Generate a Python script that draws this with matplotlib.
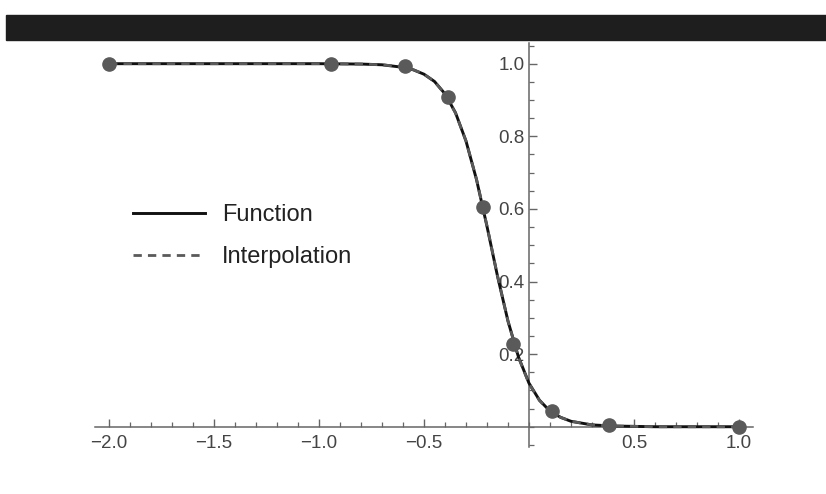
import matplotlib
matplotlib.use("Agg")
import matplotlib.pyplot as plt
from matplotlib.patches import Rectangle
from matplotlib.ticker import MultipleLocator, FixedLocator

plt.rcParams['font.family'] = ['Liberation Sans', 'DejaVu Sans']

# sample points
pts_x = [-2.0, -0.943, -0.59, -0.386, -0.22, -0.075, 0.111, 0.383, 1.0]
pts_y = [1.0, 1.0, 0.994, 0.907, 0.606, 0.228, 0.044, 0.004, 0.0]

# curve readings
curve_x = [-2.0, -1.5, -1.0, -0.8, -0.7, -0.6, -0.55, -0.5, -0.45, -0.4,
           -0.35, -0.3, -0.25, -0.2, -0.15, -0.1, -0.05, 0.0, 0.05, 0.1,
           0.15, 0.2, 0.3, 0.4, 0.6, 0.8, 1.0]
func_y = [1.0, 1.0, 1.0, 0.999, 0.997, 0.990, 0.983, 0.971, 0.951, 0.917,
          0.865, 0.787, 0.681, 0.552, 0.415, 0.291, 0.192, 0.120, 0.073, 0.043,
          0.026, 0.015, 0.005, 0.002, 0.0, 0.0, 0.0]
interp_y = [1.0, 1.0, 1.0, 0.999, 0.997, 0.991, 0.983, 0.971, 0.951, 0.916,
            0.864, 0.787, 0.682, 0.553, 0.416, 0.291, 0.191, 0.119, 0.072, 0.043,
            0.026, 0.015, 0.005, 0.002, 0.0, 0.0, 0.0]

xticks = [-2.0, -1.5, -1.0, -0.5, 0.5, 1.0]
yticks = [0.2, 0.4, 0.6, 0.8, 1.0]

fig = plt.figure(figsize=(8.26, 4.94), dpi=100)
ax = fig.add_axes([95 / 826, 1 - 446.7 / 494, (753 - 95) / 826, (446.7 - 43) / 494])

# black bar along the top
fig.patches.append(Rectangle((6 / 826, 1 - 40 / 494), 1, 25 / 494,
                             transform=fig.transFigure, color='#1e1e1e', zorder=0))

ax.plot(curve_x, func_y, color='#111111', lw=2.1, label='Function', zorder=3)
ax.plot(curve_x, interp_y, color='#5a5a5a', lw=2.0, ls=(0, (3, 2.2)),
        label='Interpolation', zorder=4)
ax.plot(pts_x, pts_y, 'o', color='#5a5a5a', ms=9.5, zorder=5)

ax.set_xlim(-2.067, 1.067)
ax.set_ylim(-0.055, 1.057)

for s in ['top', 'right']:
    ax.spines[s].set_visible(False)
ax.spines['left'].set_position(('data', 0))
ax.spines['bottom'].set_position(('data', 0))
for s in ['left', 'bottom']:
    ax.spines[s].set_color('#666666')
    ax.spines[s].set_linewidth(1.1)

ax.xaxis.set_major_locator(FixedLocator(xticks))
ax.xaxis.set_minor_locator(MultipleLocator(0.1))
ax.yaxis.set_major_locator(FixedLocator(yticks))
ax.yaxis.set_minor_locator(MultipleLocator(0.05))
ax.set_xticklabels([f"{v:.1f}".replace('-', '\u2212') for v in xticks])
ax.set_yticklabels([f"{v:.1f}" for v in yticks])

ax.tick_params(which='both', direction='in', colors='#666666', labelcolor='#444444',
               labelsize=13.5)
ax.tick_params(which='major', length=6, width=1.0)
ax.tick_params(which='minor', length=3.5, width=0.9)
ax.tick_params(axis='x', which='major', pad=6)
ax.tick_params(axis='y', which='major', pad=3)

ax.legend(loc='upper left', bbox_to_anchor=(133 / 826, 1 - 204 / 494),
          bbox_transform=fig.transFigure, frameon=False, fontsize=17,
          handlelength=3.05, handletextpad=0.72, labelspacing=0.85,
          borderpad=0, borderaxespad=0, labelcolor='#222222')

fig.savefig('out.png', dpi=100)
